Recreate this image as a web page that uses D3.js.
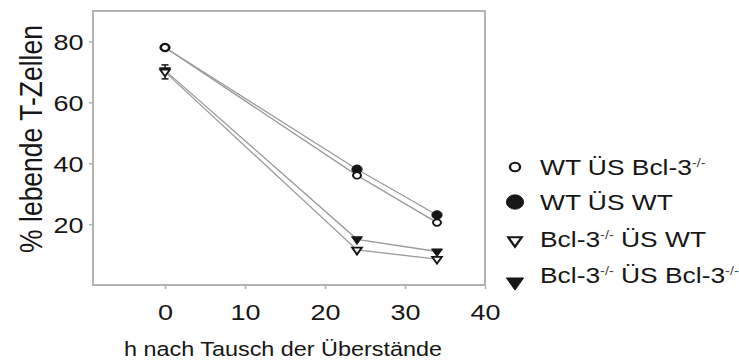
<!DOCTYPE html>
<html>
<head>
<meta charset="utf-8">
<script src="https://cdn.jsdelivr.net/npm/d3@7"></script>
<style>
  html, body { margin: 0; padding: 0; background: #fff; }
  svg { display: block; font-family: "Liberation Sans", Arial, Helvetica, sans-serif; }
</style>
</head>
<body>
<svg id="chart" width="739" height="363"></svg>
<script>
// Hours after medium exchange
const hours = [0, 24, 34];
// % living T cells per condition
const wtUsBcl3   = [78, 36, 20.5];
const wtUsWt     = [78, 38, 23];
const bcl3UsWt   = [70, 11.5, 8.5];
const bcl3UsBcl3 = [70.5, 15, 11];
// error (± %) for the Bcl-3-/- ÜS WT series
const bcl3UsWtErr = [2.3, 0, 0];

const xTicks = [0, 10, 20, 30, 40];
const yTicks = [20, 40, 60, 80];
const xTitle = "h nach Tausch der Überstände";
const yTitle = "% lebende T-Zellen";
const legendLabels = [
  "WT ÜS Bcl-3^{-/-}",
  "WT ÜS WT",
  "Bcl-3^{-/-} ÜS WT",
  "Bcl-3^{-/-} ÜS Bcl-3^{-/-}"
];

// series in legend order
const series = [
  { values: wtUsBcl3,   shape: "circle",   filled: false },
  { values: wtUsWt,     shape: "circle",   filled: true },
  { values: bcl3UsWt,   shape: "triangle", filled: false, err: bcl3UsWtErr },
  { values: bcl3UsBcl3, shape: "triangle", filled: true }
];

const SX = 1.2;              // horizontal stretch of glyphs and symbols
const INK = "#161616";
const FRAME = "#b2b2b2";
const LINE = "#9a9a9a";

const svg = d3.select("#chart");
const x = d3.scaleLinear().domain([-9, 40]).range([93, 485]);
const y = d3.scaleLinear().domain([0, 90]).range([285, 11]);

// plot frame
svg.append("rect")
  .attr("x", x.range()[0]).attr("y", y.range()[1])
  .attr("width", x.range()[1] - x.range()[0])
  .attr("height", y.range()[0] - y.range()[1])
  .attr("fill", "none").attr("stroke", FRAME).attr("stroke-width", 2);

// axes
const gx = svg.append("g").attr("transform", `translate(0,${y.range()[0]})`)
  .call(d3.axisBottom(x).tickValues(xTicks).tickSize(4).tickSizeOuter(0));
const gy = svg.append("g").attr("transform", `translate(${x.range()[0]},0)`)
  .call(d3.axisLeft(y).tickValues(yTicks).tickSize(4).tickSizeOuter(0));
[gx, gy].forEach(g => {
  g.select(".domain").remove();
  g.attr("font-family", null).attr("font-size", null);
  g.selectAll(".tick line").attr("stroke", FRAME).attr("stroke-width", 1.5);
  g.selectAll(".tick text").attr("fill", INK).attr("font-size", 22.5);
});
gx.selectAll(".tick text").attr("y", 35.5).attr("dy", null)
  .attr("transform", `scale(${SX},1)`);
gy.selectAll(".tick text").attr("x", -9.5 / SX).attr("dy", "0.36em")
  .attr("transform", `scale(${SX},1)`);

// axis titles
svg.append("text")
  .attr("transform", `translate(283,356) scale(${SX},1)`)
  .attr("text-anchor", "middle").attr("font-size", 19.5).attr("fill", INK)
  .text(xTitle);
svg.append("text")
  .attr("transform", `translate(42,139) scale(${SX},1) rotate(-90)`)
  .attr("text-anchor", "middle").attr("font-size", 26.5).attr("fill", INK)
  .text(yTitle);

// marker shapes
function markerPath(shape, size) {
  if (shape === "circle") {
    return d3.symbol(d3.symbolCircle, Math.PI * size * size)();
  }
  const w = size, h = size * 1.7;
  return `M${-w},${-h / 3}L${w},${-h / 3}L0,${2 * h / 3}Z`;
}
function drawMarker(g, s, cx, cy, big) {
  let r;
  if (s.shape === "circle") {
    r = big ? (s.filled ? 7.2 : 4.2) : (s.filled ? 4.3 : 3.3);
  } else {
    r = big ? (s.filled ? 7.2 : 5.6) : (s.filled ? 4.6 : 4.0);
  }
  const sw = s.filled ? 0.8 : (big ? 2 : 1.7);
  g.append("path")
    .attr("transform", `translate(${cx},${cy}) scale(${SX},1)`)
    .attr("d", markerPath(s.shape, r))
    .attr("fill", s.filled ? INK : "#fff")
    .attr("stroke", INK).attr("stroke-width", sw)
    .attr("stroke-linejoin", "miter");
}

// connecting lines
const line = d3.line().x((d, i) => x(hours[i])).y(d => y(d));
svg.append("g").selectAll("path").data(series).join("path")
  .attr("d", s => line(s.values))
  .attr("fill", "none").attr("stroke", LINE).attr("stroke-width", 1.3);

// error bars
const gErr = svg.append("g").attr("stroke", INK).attr("stroke-width", 1.5);
series.filter(s => s.err).forEach(s => {
  s.values.forEach((v, i) => {
    const e = s.err[i];
    if (!e) return;
    const cx = x(hours[i]);
    gErr.append("line").attr("x1", cx).attr("x2", cx)
      .attr("y1", y(v - e)).attr("y2", y(v + e));
    [v - e, v + e].forEach(t => gErr.append("line")
      .attr("x1", cx - 3.5).attr("x2", cx + 3.5)
      .attr("y1", y(t)).attr("y2", y(t)));
  });
});

// markers: filled first, open drawn on top
const gMarks = svg.append("g");
[1, 0, 3, 2].forEach(k => {
  const s = series[k];
  s.values.forEach((v, i) => drawMarker(gMarks, s, x(hours[i]), y(v), false));
});

// legend
const SUP = 8.5;
const legendBaselines = [175, 210, 247, 283];
const gLeg = svg.append("g");
series.forEach((s, k) => {
  const b = legendBaselines[k];
  const off = s.shape === "triangle" ? (s.filled ? 1 : 6.5) : 8;
  drawMarker(gLeg, s, 515, b - off, true);
  const t = gLeg.append("text")
    .attr("transform", `translate(540,${b}) scale(${SX},1)`)
    .attr("font-size", 22).attr("fill", INK);
  let raised = false;
  legendLabels[k].split(/(\^\{[^}]*\})/).filter(p => p).forEach(p => {
    const m = p.match(/^\^\{(.*)\}$/);
    if (m) {
      t.append("tspan").attr("font-size", 12).attr("dy", -SUP)
        .attr("fill", "#444").text(m[1]);
      raised = true;
    } else {
      t.append("tspan").attr("dy", raised ? SUP : null).text(p);
      raised = false;
    }
  });
});
</script>
</body>
</html>
